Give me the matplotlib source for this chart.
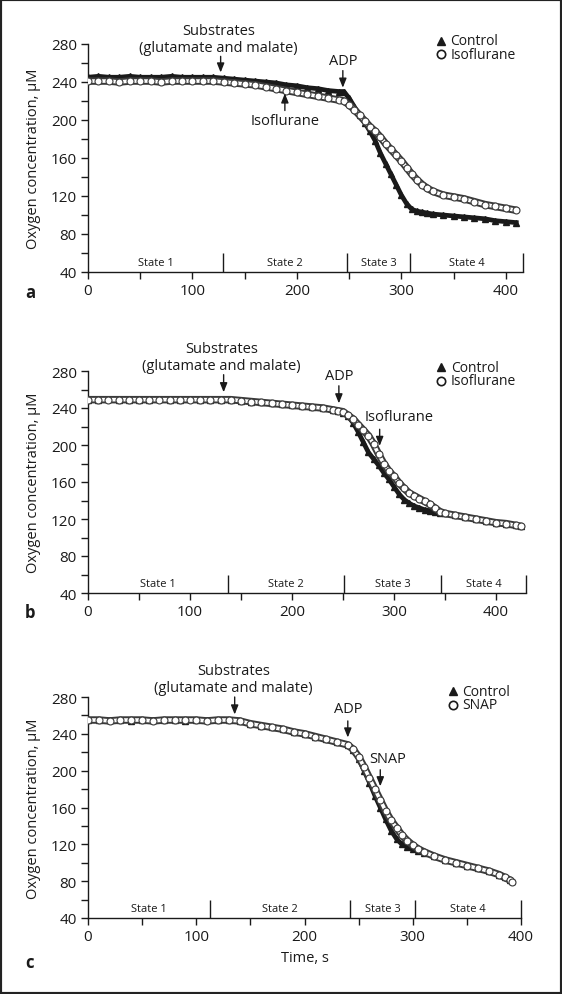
import numpy as np
import matplotlib.pyplot as plt
from matplotlib.patches import Rectangle
from matplotlib.ticker import MultipleLocator

plt.rcParams['font.family'] = ['Open Sans', 'DejaVu Sans']

# ---- panel a : control vs isoflurane (isoflurane added in state 2) ----
times_a = [0, 10, 20, 30, 40, 50, 60, 70, 80, 90, 100, 110, 120, 130,
           140, 150, 160, 170, 180, 190, 200, 210, 220, 230, 240,
           245, 250, 255, 260, 265, 270, 275, 280, 285, 290, 295, 300,
           305, 310, 315, 320, 325, 330,
           340, 350, 360, 370, 380, 390, 400, 410]
control_a = [245, 246, 245, 245, 246, 245, 245, 245, 246, 245, 245, 245, 245, 244,
             243, 242, 241, 240, 239, 237, 236, 234, 233, 231, 230,
             230, 223, 214, 205, 197, 188, 178, 165, 154, 143, 132, 121,
             112, 106, 104, 103, 102, 101,
             100, 99, 98, 97, 96, 94, 93, 92]
iso_a = [241, 241, 241, 240, 241, 241, 241, 240, 241, 241, 241, 241, 241, 240,
         239, 238, 237, 235, 233, 231, 229, 227, 225, 223, 221,
         220, 216, 211, 205, 199, 193, 188, 182, 175, 169, 163, 157,
         150, 143, 137, 132, 128, 125,
         121, 119, 117, 114, 111, 109, 107, 105]
states_a = [0, 129.5, 248, 308.5, 416.5]
substrate_a, adp_a, drug_a = 127, 244, 188.5

# ---- panel b : control vs isoflurane (isoflurane added in state 3) ----
times_b = [0, 10, 20, 30, 40, 50, 60, 70, 80, 90, 100, 110, 120, 130,
           140, 150, 160, 170, 180, 190, 200, 210, 220, 230, 240,
           245, 250, 255, 260, 265, 270, 275, 280, 285, 290, 295, 300,
           305, 310, 315, 320, 325, 330, 335, 340, 345, 350,
           360, 370, 380, 390, 400, 410, 420, 425]
control_b = [249, 249, 250, 249, 249, 249, 249, 250, 249, 249, 250, 249, 249, 249,
             249, 248, 247, 246, 245, 244, 243, 242, 241, 240, 238,
             237, 235, 231, 224, 214, 203, 192, 185, 178, 170, 163, 155,
             147, 141, 137, 134, 132, 130, 129, 128, 127, 126,
             124, 122, 120, 118, 116, 115, 113, 112]
iso_b = [249, 249, 249, 249, 249, 249, 249, 249, 249, 249, 249, 249, 249, 249,
         249, 248, 247, 246, 245, 244, 243, 242, 241, 240, 238,
         237, 236, 232, 228, 222, 216, 210, 201, 190, 180, 172, 166,
         159, 153, 148, 145, 142, 139, 136, 132, 128, 126,
         124, 122, 120, 118, 116, 115, 113, 112]
states_b = [0, 137, 251, 346, 429.5]
substrate_b, adp_b, drug_b = 133, 246, 286

# ---- panel c : control vs SNAP ----
times_c = [0, 10, 20, 30, 40, 50, 60, 70, 80, 90, 100, 110, 120, 130,
           140, 150, 160, 170, 180, 190, 200, 210, 220, 230, 240,
           245, 250, 255, 260, 265, 270, 275, 280, 285, 290, 295, 300, 305, 310,
           320, 330, 340, 350, 360, 370, 380, 385, 390, 392]
control_c = [255, 255, 255, 255, 254, 255, 255, 255, 255, 254, 255, 255, 255, 255,
             254, 251, 249, 247, 245, 242, 240, 237, 234, 231, 228,
             222, 213, 200, 187, 173, 160, 147, 135, 126, 120, 117, 115, 113, 111,
             107, 103, 100, 97, 94, 91, 87, 84, 81, 80]
snap_c = [255, 255, 254, 255, 255, 255, 254, 255, 255, 255, 255, 254, 255, 255,
          254, 251, 249, 247, 245, 242, 240, 237, 234, 231, 228,
          223, 215, 204, 192, 180, 168, 156, 146, 138, 130, 124, 119, 115, 112,
          107, 103, 100, 97, 94, 91, 87, 84, 81, 79]
states_c = [0, 113, 242, 302.5, 400]
substrate_c, adp_c, drug_c = 135.5, 240, 270

state_names = ['State 1', 'State 2', 'State 3', 'State 4']

W, H = 562, 995
fig = plt.figure(figsize=(W / 100, H / 100), dpi=100)
ink = '#1a1a1a'


def make_axes(left, right, top, bottom):
    return fig.add_axes([left / W, 1 - bottom / H, (right - left) / W, (bottom - top) / H])


def draw_panel(ax, t, ctrl, other, states, left_px, width_px):
    # control: dense black triangles
    ax.plot(t, ctrl, '-', color=ink, lw=3.4, zorder=2)
    ax.plot(t, ctrl, '^', color=ink, ms=5, zorder=2)
    # drug trace: hollow circles
    ax.plot(t, other, '-', color='#3a3a3a', lw=5.4, zorder=3, solid_capstyle='round')
    ax.plot(t, other, '-', color='white', lw=2.6, zorder=3)
    ax.plot(t, other, 'o', mfc='white', mec='#3a3a3a', ms=5, mew=0.8, zorder=3)

    ax.set_xlim(states[0], states[-1])
    ax.set_ylim(40, 280)
    for s in ['top', 'right']:
        ax.spines[s].set_visible(False)
    for s in ['left', 'bottom']:
        ax.spines[s].set_color(ink)
        ax.spines[s].set_linewidth(1)
    ax.xaxis.set_major_locator(MultipleLocator(100))
    ax.xaxis.set_minor_locator(MultipleLocator(50))
    ax.yaxis.set_major_locator(MultipleLocator(40))
    ax.yaxis.set_minor_locator(MultipleLocator(20))
    ax.tick_params(which='both', direction='out', length=5, width=1, color=ink,
                   labelsize=11, labelcolor=ink, pad=3)
    ax.set_ylabel('Oxygen concentration, μM', fontsize=10.5, color=ink)
    ax.yaxis.set_label_coords((41 - left_px) / width_px, 0.5)

    # state bars
    ax.vlines(states[1:], 40, 60, color=ink, lw=1, clip_on=False)
    mids = [(a + b) / 2 for a, b in zip(states[:-1], states[1:])]
    for m, name in zip(mids, state_names):
        ax.text(m, 50, name, ha='center', va='center', fontsize=8, color=ink)


def arrow(ax, x, tail, tip):
    ax.annotate('', xy=(x, tip), xytext=(x, tail),
                arrowprops=dict(arrowstyle='-|>,head_length=0.55,head_width=0.22',
                                color=ink, lw=1, shrinkA=0, shrinkB=0, mutation_scale=10),
                annotation_clip=False)


def legend(ax, x, y1, y2, name):
    ax.plot([x], [y1], '^', color=ink, ms=6, transform=ax.transAxes, clip_on=False)
    ax.plot([x], [y2], 'o', mfc='white', mec=ink, ms=6, mew=1.2,
            transform=ax.transAxes, clip_on=False)
    ax.text(x + 0.022, y1, 'Control', transform=ax.transAxes, fontsize=10,
            va='center', ha='left', color=ink)
    ax.text(x + 0.022, y2, name, transform=ax.transAxes, fontsize=10,
            va='center', ha='left', color=ink)


sub_text = 'Substrates\n(glutamate and malate)'

# panel a
ax_a = make_axes(88, 523, 45, 273)
draw_panel(ax_a, times_a, control_a, iso_a, states_a, 88, 435)
arrow(ax_a, substrate_a, 267, 250)
ax_a.text(substrate_a - 2, 268, sub_text, ha='center', va='bottom', fontsize=10.5,
          color=ink, linespacing=1.2)
arrow(ax_a, adp_a, 252, 234)
ax_a.text(adp_a, 263, 'ADP', ha='center', va='center', fontsize=10.5, color=ink)
arrow(ax_a, drug_a, 210, 228)
ax_a.text(drug_a, 199, 'Isoflurane', ha='center', va='center', fontsize=10.5, color=ink)
legend(ax_a, 0.8115, 1.015, 0.955, 'Isoflurane')

# panel b
ax_b = make_axes(88, 526, 372, 594)
draw_panel(ax_b, times_b, control_b, iso_b, states_b, 88, 438)
arrow(ax_b, substrate_b, 276, 257)
ax_b.text(substrate_b - 2, 278, sub_text, ha='center', va='bottom', fontsize=10.5,
          color=ink, linespacing=1.2)
arrow(ax_b, adp_b, 264, 245)
ax_b.text(adp_b, 275, 'ADP', ha='center', va='center', fontsize=10.5, color=ink)
arrow(ax_b, drug_b, 217, 199)
ax_b.text(305, 231, 'Isoflurane', ha='center', va='center', fontsize=10.5, color=ink)
legend(ax_b, 0.806, 1.017, 0.955, 'Isoflurane')

# panel c
ax_c = make_axes(88, 521, 698, 919)
draw_panel(ax_c, times_c, control_c, snap_c, states_c, 88, 433)
arrow(ax_c, substrate_c, 280, 261)
ax_c.text(substrate_c - 1, 282, sub_text, ha='center', va='bottom', fontsize=10.5,
          color=ink, linespacing=1.2)
arrow(ax_c, adp_c, 254, 236)
ax_c.text(adp_c, 267, 'ADP', ha='center', va='center', fontsize=10.5, color=ink)
arrow(ax_c, drug_c, 201, 183)
ax_c.text(277, 213, 'SNAP', ha='center', va='center', fontsize=10.5, color=ink)
legend(ax_c, 0.843, 1.026, 0.964, 'SNAP')
ax_c.set_xlabel('Time, s', fontsize=10.5, color=ink, labelpad=4)

# panel letters
for letter, ypx in [('a', 293), ('b', 613), ('c', 963)]:
    fig.text(30 / W, 1 - ypx / H, letter, fontsize=12, fontweight='bold',
             ha='center', va='center', color=ink)

fig.patches.append(Rectangle((0, 0), 1, 1, transform=fig.transFigure, fill=False,
                             ec='#222222', lw=3))

fig.savefig('out.png', dpi=100)
